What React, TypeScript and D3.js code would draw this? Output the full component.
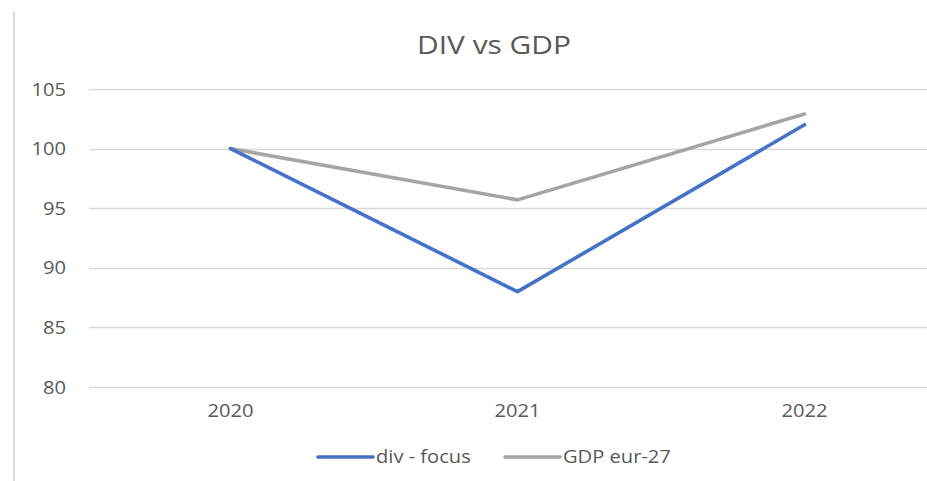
import React, { useEffect, useRef } from "react";
import * as d3 from "d3";

const years = ["2020", "2021", "2022"];
const divFocus = [100, 88, 102];
const gdpEur27 = [100, 95.7, 102.9];
const yTicks = [80, 85, 90, 95, 100, 105];
const seriesNames = ["div - focus", "GDP eur-27"];
const seriesColors = ["#4472C4", "#A5A5A5"];

const W = 927;
const H = 481;
const FONT = "'Open Sans', sans-serif";
const STRETCH = 1.15;

const App = () => {
    const svgRef = useRef<SVGSVGElement>(null);

    useEffect(() => {
        const svg = d3.select(svgRef.current);
        svg.selectAll("*").remove();

        const x = d3.scaleBand().domain(years).range([87, 948]);
        const y = d3.scaleLinear().domain([80, 105]).range([387, 89]);

        // left border of the chart box
        svg.append("line")
            .attr("x1", 14).attr("x2", 14)
            .attr("y1", 12).attr("y2", H)
            .attr("stroke", "#d9d9d9")
            .attr("stroke-width", 2);

        // title
        svg.append("text")
            .attr("transform", `translate(494,54) scale(${STRETCH},1)`)
            .attr("text-anchor", "middle")
            .attr("font-family", FONT)
            .attr("font-size", 26)
            .attr("fill", "#595959")
            .text("DIV vs GDP");

        // gridlines
        svg.append("g")
            .selectAll("line")
            .data(yTicks)
            .join("line")
            .attr("x1", 89)
            .attr("x2", W)
            .attr("y1", d => Math.round(y(d)) + 0.5)
            .attr("y2", d => Math.round(y(d)) + 0.5)
            .attr("stroke", "#d9d9d9")
            .attr("stroke-width", 1.3);

        // y labels
        svg.append("g")
            .selectAll("text")
            .data(yTicks)
            .join("text")
            .attr("transform", d => `translate(66,${y(d) + 6.5}) scale(${STRETCH},1)`)
            .attr("text-anchor", "end")
            .attr("font-family", FONT)
            .attr("font-size", 17.5)
            .attr("fill", "#595959")
            .text(d => d);

        // x labels
        svg.append("g")
            .selectAll("text")
            .data(years)
            .join("text")
            .attr("transform", d => `translate(${x(d)! + x.bandwidth() / 2},417) scale(${STRETCH},1)`)
            .attr("text-anchor", "middle")
            .attr("font-family", FONT)
            .attr("font-size", 17.5)
            .attr("fill", "#595959")
            .text(d => d);

        const line = d3
            .line<number>()
            .x((_, i) => x(years[i])! + x.bandwidth() / 2)
            .y(d => y(d));

        [gdpEur27, divFocus].forEach((vals, k) => {
            svg.append("path")
                .datum(vals)
                .attr("fill", "none")
                .attr("stroke", k === 0 ? seriesColors[1] : seriesColors[0])
                .attr("stroke-width", 3.6)
                .attr("stroke-linejoin", "round")
                .attr("stroke-linecap", "round")
                .attr("d", line);
        });

        // legend
        const legendX = [318, 505];
        seriesNames.forEach((name, i) => {
            const g = svg.append("g").attr("transform", `translate(${legendX[i]},457)`);
            g.append("line")
                .attr("x1", 0).attr("x2", 55)
                .attr("y1", 0).attr("y2", 0)
                .attr("stroke", seriesColors[i])
                .attr("stroke-width", 3.6)
                .attr("stroke-linecap", "round");
            g.append("text")
                .attr("transform", `translate(58,6) scale(${STRETCH},1)`)
                .attr("font-family", FONT)
                .attr("font-size", 17.5)
                .attr("fill", "#595959")
                .text(name);
        });
    }, []);

    return (
        <div style={{ position: "fixed", left: 0, top: 0, width: W, height: H, background: "#fff" }}>
            <svg ref={svgRef} width={W} height={H} viewBox={`0 0 ${W} ${H}`} />
        </div>
    );
};

export default App;
